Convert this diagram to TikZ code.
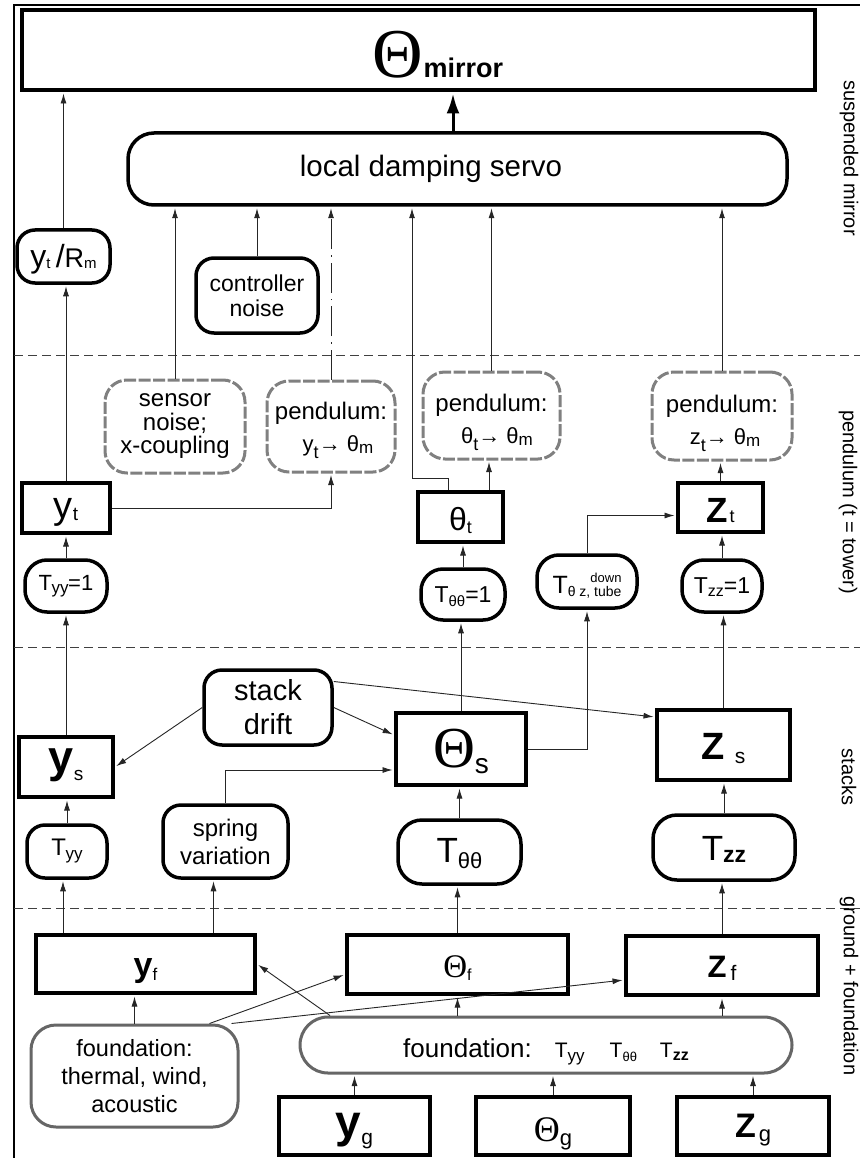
\documentclass[tikz,border=0pt]{standalone}
\usepackage{fontspec}
\setmainfont{Liberation Sans}
\newfontfamily\thfont{Liberation Serif}
\usetikzlibrary{arrows.meta}
\newcommand\fs[1]{\fontsize{#1}{#1}\selectfont}
\newcommand\fss[2]{\fontsize{#1}{#2}\selectfont}
\newcommand\lo[3]{\raisebox{-#1pt}{\fontsize{#2}{#2}\selectfont #3}}
\newcommand\bl[2]{\raisebox{-#1pt}[0pt][0pt]{#2}}
\begin{document}
\begin{tikzpicture}[x=1pt,y=-1pt,
  wd/.style={minimum width=#1pt},
  hg/.style={minimum height=#1pt},
  sq/.style={draw=black, line width=4pt, inner sep=0pt},
  rnd/.style={draw=black, line width=3.5pt, rounded corners=18pt, inner sep=0pt},
  rndc/.style={rnd, align=center},
  gry/.style={draw=black!60, line width=3pt, rounded corners=22pt, inner sep=0pt, align=center},
  gryd/.style={gry, draw=black!50, dash pattern=on 12pt off 2.5pt},
  arr/.style={-{Latex[length=10pt,width=6pt]}, line width=0.9pt, draw=black!85, shorten >=1.5pt},
  big/.style={-{Latex[length=20pt,width=13pt]}, line width=3pt, shorten >=1.5pt},
  sep/.style={dash pattern=on 9pt off 5pt, line width=0.9pt, draw=black!75},
  side/.style={rotate=-90, font=\fs{20}}]
\useasboundingbox (0,0) rectangle (860,1158);
\clip (0,0) rectangle (860,1158);
\fill[white] (0,0) rectangle (860,1158);
% frame
\draw[line width=2pt] (14,1158) -- (14,5) -- (860,5);
% separators
\draw[sep] (14,355) -- (860,355);
\draw[sep] (14,647) -- (860,647);
\draw[sep] (14,908) -- (860,908);
% side labels
\node[side] (lab1) at (849,158) {suspended mirror};
\node[side] (lab2) at (848,502) {pendulum (t = tower)};
\node[side] (lab3) at (849,777) {stacks};
\node[side] (lab4) at (849,986) {ground + foundation};

% suspended mirror level
\node[sq, wd=793, hg=80] (mirror) at (418.5,50) {};
\node[anchor=base] (mirrortxt) at (438,78) {{\thfont\fs{70}Θ}{\bfseries\fs{27}mirror}};
\node[rnd, wd=659, hg=72, rounded corners=26pt] (servo) at (457.5,169) {};
\node[anchor=base, font=\fs{29.5}] (servotxt) at (431,177) {local damping servo};
\node[rnd, wd=93, hg=53] (yR) at (63.5,256.5) {\bl{10.5}{\fs{32}y\lo{2}{15}{t}\,/\fs{27}R\lo{2}{15}{m}}};
\node[rndc, wd=122, hg=75, font=\fss{23}{25}] (ctrl) at (257,295.5) {controller\\noise};

% pendulum level
\node[gryd, wd=140, hg=93, font=\fss{24}{23.5}] (sens) at (175,426.5) {sensor\\noise;\\x-coupling};
\node[gryd, wd=128, hg=91, font=\fss{24}{32}] (pendy) at (331,426.5) {\rule{0pt}{26pt}pendulum:\\\hspace*{14pt}{\fs{22}y}\lo{7}{18}{t}{\fs{22}→ θ}\lo{2}{17}{m}};
\node[gryd, wd=137, hg=87, font=\fss{24}{32}] (pendth) at (491.5,415.5) {\rule{0pt}{32pt}pendulum:\\\hspace*{11pt}{\fs{22}θ}\lo{7}{18}{t}{\fs{22}→ θ}\lo{2}{17}{m}};
\node[gryd, wd=140, hg=88, font=\fss{24}{32}] (pendz) at (722,416) {\rule{0pt}{32pt}pendulum:\\\hspace*{6pt}{\fs{22}z}\lo{7}{18}{t}{\fs{22}→ θ}\lo{2}{17}{m}};
\node[sq, wd=88, hg=50] (yt) at (66,508) {\bl{10}{\fs{38}y\lo{2}{19}{t}}};
\node[sq, wd=85, hg=50] (tht) at (460.5,517) {\bl{13}{\fs{32}θ\lo{3}{18}{t}}};
\node[sq, wd=85, hg=49] (zt) at (720.5,507.5) {\bl{14.5}{{\bfseries\fs{35}Z}\hspace{2pt}\lo{0}{18}{t}}};
\node[rnd, wd=82, hg=52, rounded corners=22pt] (Tyy1) at (66,586) {\bl{4}{\fs{22}T\hspace{-0.5pt}\lo{3}{17}{yy}\hspace{-0.5pt}=1}};
\node[rnd, wd=84, hg=51, rounded corners=22pt] (Ttt1) at (463,594.5) {\bl{7.5}{\fs{23}T\lo{4}{15}{θθ}=1}};
\node[rnd, wd=100, hg=53, rounded corners=22pt] (Ttz) at (587,581.5) {\bl{11.5}{\fs{25}T\lo{3}{14}{θ z, tube}\llap{\raisebox{11pt}{\fs{13}down}}}};
\node[rnd, wd=80, hg=52, rounded corners=22pt] (Tzz1) at (722,586) {\bl{7}{\fs{23}T\lo{3}{16}{zz}=1}};

% stacks level
\node[rndc, wd=128, hg=75, font=\fss{29}{34}] (drift) at (268,707.5) {stack\\drift};
\node[sq, wd=94, hg=60] (ys) at (66,767) {\bl{5.5}{{\bfseries\fs{45}y}\lo{7.5}{19}{s}}};
\node[sq, wd=130, hg=72] (ths) at (461,749) {\bl{18}{{\thfont\fs{58}Θ}\lo{6}{28}{s}}};
\node[sq, wd=133, hg=70] (zs) at (723.5,745) {\bl{14}{{\bfseries\fs{38}Z}\hspace{10pt}\lo{4}{21}{s}}};
\node[rndc, wd=125, hg=73, font=\fss{24}{28}] (spring) at (225.5,841.5) {spring\\variation};
\node[rnd, wd=80, hg=53] (Tyy) at (67,851.5) {\bl{3.5}{\fs{24}T\hspace{-0.5pt}\lo{4}{17}{yy}}};
\node[rnd, wd=123, hg=64, rounded corners=24pt] (Ttt) at (459.5,852) {\bl{10}{\fs{35}T\lo{6}{22}{θθ}}};
\node[rnd, wd=142, hg=65, rounded corners=24pt] (Tzz) at (724,847.5) {\bl{12.5}{\fs{35}T\lo{2}{23}{\bfseries zz}}};

% ground + foundation level
\node[sq, wd=219, hg=58] (yf) at (145.5,964) {\bl{12}{{\bfseries\fs{34}y}\lo{4}{17}{f}}};
\node[sq, wd=221, hg=59] (thf) at (457.5,964.5) {\bl{12.5}{{\thfont\fs{33}Θ}\lo{3}{16}{f}}};
\node[sq, wd=192, hg=59] (zf) at (722,965.5) {\bl{11.5}{{\bfseries\fs{31}Z}\hspace{4pt}\lo{3}{21}{f}}};
\node[gry, wd=207, hg=102, rounded corners=25pt, font=\fss{23.5}{28}] (fwind) at (134.5,1076) {foundation:\\thermal, wind,\\acoustic};
\node[gry, wd=492, hg=56, rounded corners=28pt] (fnd) at (546,1045) {\bl{12}{\fs{26}foundation:\hspace{23pt}\fs{21}T\lo{4}{17}{yy}\hspace{25pt}T\lo{4}{13}{θθ}\hspace{23pt}T\lo{3}{16}{\bfseries zz}}};
\node[sq, wd=151, hg=58] (yg) at (354.5,1126) {\bl{11}{{\bfseries\fs{46}y}\lo{7}{21}{g}}};
\node[sq, wd=154, hg=58] (thg) at (553,1126) {\bl{15}{{\thfont\fs{36}Θ}\lo{4}{22}{g}}};
\node[sq, wd=152, hg=58] (zg) at (753,1126) {\bl{11}{{\bfseries\fs{34}Z}\hspace{3pt}\lo{4}{22}{g}}};

% connectors: top
\draw[arr] (yR.north) -- (yR.north |- mirror.south);
\draw[big] ([xshift=-4.5pt]servo.north) -- ([xshift=-4.5pt]servo.north |- mirror.south);
\draw[arr] (ctrl.north) -- (ctrl.north |- servo.south);
\draw[arr] (sens.north) -- (sens.north |- servo.south);
\draw[arr, dash pattern=on 30pt off 6pt on 1.5pt off 6pt] (pendy.north) -- (pendy.north |- servo.south);
\coordinate (tk) at (412,478);
\draw[arr] ([xshift=-12.5pt]tht.north) |- (tk) -- (tk |- servo.south);
\draw[arr] (pendth.north) -- (pendth.north |- servo.south);
\draw[arr] (pendz.north) -- (pendz.north |- servo.south);
% pendulum
\draw[arr] (yt.north) -- (yt.north |- yR.south);
\draw[arr] (yt.east) -| (pendy.south);
\draw[arr] ([xshift=28.5pt]tht.north) -- ([xshift=28.5pt]tht.north |- pendth.south);
\draw[arr] (zt.north) -- (zt.north |- pendz.south);
\draw[arr] (Ttz.north) |- ([yshift=-8pt]zt.west);
\draw[arr] (Tyy1.north) -- (Tyy1.north |- yt.south);
\draw[arr] (Ttt1.north) -- (Ttt1.north |- tht.south);
\draw[arr] (Tzz1.north) -- (Tzz1.north |- zt.south);
% stacks
\draw[arr] (ys.north) -- (ys.north |- Tyy1.south);
\draw[arr] (ths.north) -- (ths.north |- Ttt1.south);
\draw[arr] (ths.east) -| (Ttz.south);
\draw[arr] (zs.north) -- (zs.north |- Tzz1.south);
\draw[arr] (drift.west) -- (ys.east);
\draw[arr] (drift.east) -- ([yshift=14pt]ths.west);
\draw[arr] ([yshift=26pt]drift.east) -- ([yshift=28pt]zs.west);
\draw[arr] (spring.north) |- ([yshift=-21pt]ths.west);
\draw[arr] (Tyy.north) -- (Tyy.north |- ys.south);
\draw[arr] (Ttt.north) -- (Ttt.north |- ths.south);
\draw[arr] (Tzz.north) -- (Tzz.north |- zs.south);
% ground
\draw[arr] ([xshift=-4pt]Tyy.south |- yf.north) -- ([xshift=-4pt]Tyy.south);
\draw[arr] ([xshift=-12pt]spring.south |- yf.north) -- ([xshift=-12pt]spring.south);
\draw[arr] (thf.north) -- (thf.north |- Ttt.south);
\draw[arr] (zf.north) -- (zf.north |- Tzz.south);
\draw[arr] (fwind.north) -- (fwind.north |- yf.south);
\draw[arr] ([xshift=75pt]fwind.north) -- ([yshift=-10pt]thf.west);
\draw[arr] ([xshift=-8pt]fwind.north east) -- ([yshift=-14.5pt]zf.west);
\draw[arr] ([xshift=-216pt]fnd.north) -- (yf.east);
\draw[arr] (thf.south |- fnd.north) -- (thf.south);
\draw[arr] (zf.south |- fnd.north) -- (zf.south);
\draw[arr] (yg.north) -- (yg.north |- fnd.south);
\draw[arr] (thg.north) -- (thg.north |- fnd.south);
\draw[arr] (zg.north) -- (zg.north |- fnd.south);
\end{tikzpicture}
\end{document}
